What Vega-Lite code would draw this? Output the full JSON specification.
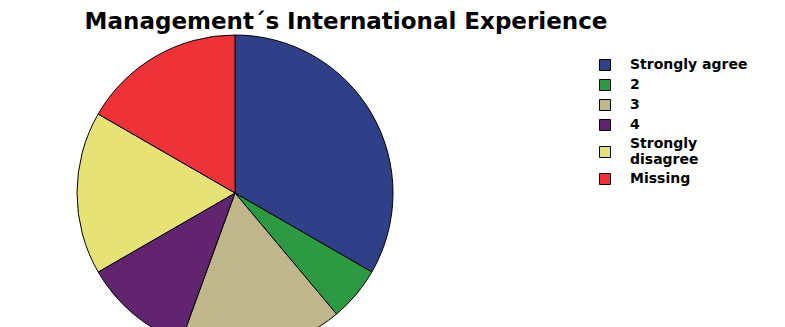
{
  "$schema": "https://vega.github.io/schema/vega-lite/v6.json",
  "autosize": {"type": "none"},
  "width": 470,
  "height": 268,
  "padding": {"left": 0, "top": 59, "right": 315, "bottom": 0},
  "background": "white",
  "title": {
    "text": "Management´s International Experience",
    "orient": "top",
    "frame": "group",
    "anchor": "middle",
    "dx": 111,
    "offset": -1,
    "font": "DejaVu Sans",
    "fontSize": 23,
    "fontWeight": "bold",
    "color": "black"
  },
  "data": {
    "values": [
      {"response": "Strongly agree", "count": 12, "k": 1},
      {"response": "2", "count": 2, "k": 2},
      {"response": "3", "count": 6, "k": 3},
      {"response": "4", "count": 4, "k": 4},
      {"response": "Strongly disagree", "count": 6, "k": 5},
      {"response": "Missing", "count": 6, "k": 6}
    ]
  },
  "mark": {"type": "arc", "radius": 158, "stroke": "black", "strokeWidth": 1},
  "encoding": {
    "theta": {"field": "count", "type": "quantitative", "stack": true},
    "order": {"field": "k", "type": "ordinal"},
    "color": {
      "field": "response",
      "type": "nominal",
      "sort": ["Strongly agree", "2", "3", "4", "Strongly disagree", "Missing"],
      "scale": {
        "domain": ["Strongly agree", "2", "3", "4", "Strongly disagree", "Missing"],
        "range": ["#2f3f88", "#2d9a43", "#bfb78a", "#63246f", "#e6e276", "#ee3338"]
      },
      "legend": {
        "title": null,
        "orient": "none",
        "legendX": 598,
        "legendY": -1,
        "symbolType": "square",
        "symbolSize": 121,
        "symbolStrokeColor": "black",
        "symbolStrokeWidth": 1,
        "symbolOpacity": 1,
        "labelFont": "DejaVu Sans",
        "labelFontSize": 14,
        "labelFontWeight": "bold",
        "labelColor": "black",
        "labelOffset": 18,
        "labelLineHeight": 15,
        "labelLimit": 200,
        "rowPadding": 4,
        "labelExpr": "datum.label == 'Strongly disagree' ? ['Strongly', 'disagree'] : datum.label",
        "encode": {
          "labels": {
            "update": {
              "dy": {"signal": "datum.label == 'Strongly disagree' ? -8 : 0"}
            }
          }
        }
      }
    }
  },
  "config": {"view": {"stroke": null}}
}
